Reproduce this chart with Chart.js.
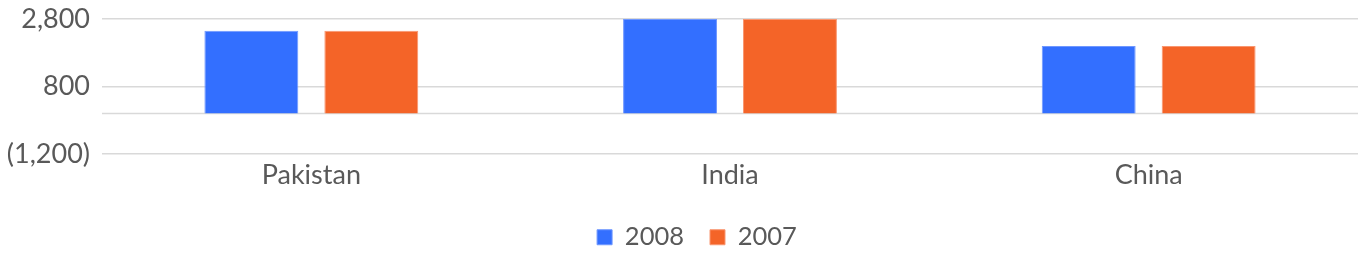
<!DOCTYPE html>
<html>
<head>
<meta charset="utf-8">
<script src="https://cdn.jsdelivr.net/npm/chart.js@4"></script>
<style>
  html, body { margin: 0; padding: 0; background: #fff; }
  #wrap { width: 1358px; height: 254px; }
</style>
</head>
<body>
<div id="wrap"><canvas id="chart" width="1358" height="254"></canvas></div>
<script>
const categories = ["Pakistan", "India", "China"];
const values2008 = [2450, 2800, 2000];
const values2007 = [2450, 2800, 2000];
const yTicks = [-1200, 800, 2800];

const textColor = "#595959";
const gridColor = "#d9d9d9";
const font = { family: "Lato", size: 27 };

// Excel draws the category axis at zero, not at a tick
const zeroLine = {
  id: "zeroLine",
  beforeDatasetsDraw(chart) {
    const { ctx, chartArea, scales } = chart;
    const y = scales.y.getPixelForValue(0);
    ctx.save();
    ctx.strokeStyle = gridColor;
    ctx.lineWidth = 1.5;
    ctx.beginPath();
    ctx.moveTo(chartArea.left, y);
    ctx.lineTo(chartArea.right, y);
    ctx.stroke();
    ctx.restore();
  },
};

// legend in the reference sits a bit right of the canvas centre
const legendShift = {
  id: "legendShift",
  afterLayout(chart) {
    chart.legend.left += 18;
    chart.legend.right += 18;
  },
};

const fmt = (v) => {
  const s = Math.abs(v).toLocaleString("en-US");
  return v < 0 ? "(" + s + ")" : s;
};

new Chart(document.getElementById("chart"), {
  type: "bar",
  data: {
    labels: categories,
    datasets: [
      {
        label: "2008",
        data: values2008,
        backgroundColor: "#336fff",
        borderColor: "#6f97ff",
        borderWidth: 1,
      },
      {
        label: "2007",
        data: values2007,
        backgroundColor: "#f46428",
        borderColor: "#f99670",
        borderWidth: 1,
      },
    ],
  },
  options: {
    responsive: false,
    animation: false,
    categoryPercentage: 0.573,
    barPercentage: 0.783,
    layout: { padding: { top: 19, right: 0, left: 0, bottom: -6 } },
    plugins: {
      tooltip: { enabled: false },
      legend: {
        position: "bottom",
        labels: {
          boxWidth: 15,
          boxHeight: 15,
          padding: 26,
          color: textColor,
          font: { family: "Lato", size: 25.5 },
        },
      },
    },
    scales: {
      x: {
        grid: { display: false, drawTicks: false },
        border: { display: false },
        ticks: { color: textColor, padding: 5, font: font },
        afterFit: (s) => { s.height = 44.5; },
      },
      y: {
        min: -1200,
        max: 2800,
        afterBuildTicks: (s) => { s.ticks = yTicks.map((v) => ({ value: v })); },
        grid: { color: gridColor, lineWidth: 1.5, drawTicks: false },
        border: { display: false },
        ticks: {
          color: textColor,
          padding: 12,
          font: font,
          callback: (v) => fmt(v),
        },
        afterFit: (s) => {
          s.width = 102;
          s.paddingTop = 0;
          s.paddingBottom = 0;
        },
      },
    },
  },
  plugins: [zeroLine, legendShift],
});
</script>
</body>
</html>
